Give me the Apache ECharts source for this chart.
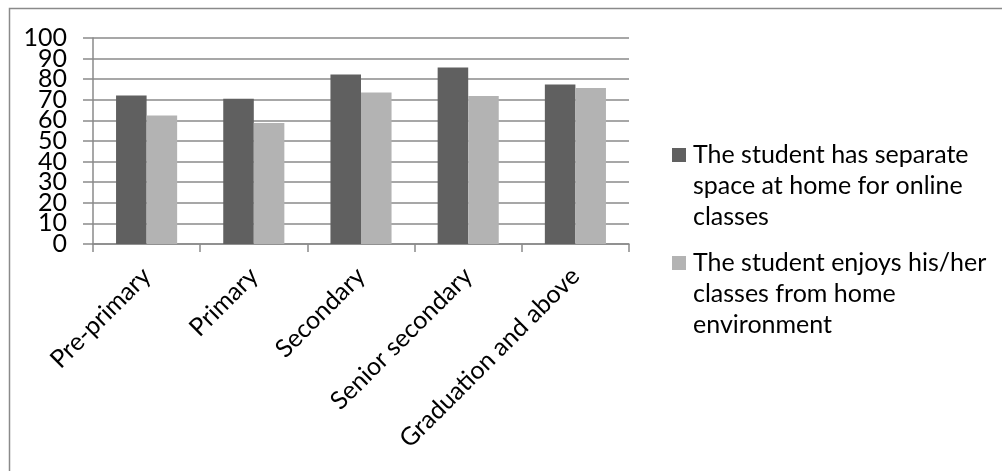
<!DOCTYPE html>
<html>
<head>
<meta charset="utf-8">
<script src="https://cdn.jsdelivr.net/npm/echarts@6/dist/echarts.min.js"></script>
<style>
  html, body { margin: 0; padding: 0; background: #fff; }
  #chart { width: 1002px; height: 471px; }
</style>
</head>
<body>
<div id="chart"></div>
<script>
// Education levels along the x axis
const categories = ['Pre-primary', 'Primary', 'Secondary', 'Senior secondary', 'Graduation and above'];

// Percentages per level
const separateSpace = [72.1, 70.5, 82.3, 85.7, 77.4];
const enjoysClasses = [62.4, 58.7, 73.6, 71.8, 75.7];

// Series names, wrapped as shown in the legend
const nameSeparate = 'The student has separate\nspace at home for online\nclasses';
const nameEnjoys = 'The student enjoys his/her\nclasses from home\nenvironment';

// Y axis range and its tick labels (every tick is labelled)
const yMin = 0, yMax = 100, yStep = 10;
const yTickLabels = ['0', '10', '20', '30', '40', '50', '60', '70', '80', '90', '100'];

const FONT = 'Lato';
const FS = 25;
const LH = 31;
const GRID_COLOR = '#8a8a8a';

// One legend block per series; the marker sits beside the first text line,
// so two empty lines are prepended to shift the centred text down.
function legendAt(name, markerCenterY) {
  return {
    data: [name],
    left: 672,
    top: markerCenterY - LH * 2.5,
    orient: 'vertical',
    padding: 0,
    itemWidth: 14,
    itemHeight: 14,
    icon: 'rect',
    selectedMode: false,
    formatter: n => '\n\n' + n,
    textStyle: {
      fontFamily: FONT,
      fontSize: FS,
      lineHeight: LH,
      color: '#000',
      padding: [0, 0, 0, 2]
    }
  };
}

const chart = echarts.init(document.getElementById('chart'), null, { renderer: 'canvas' });
chart.setOption({
  animation: false,
  backgroundColor: '#fff',
  textStyle: { fontFamily: FONT },
  graphic: [{
    type: 'rect',
    shape: { x: 9.5, y: 8.5, width: 1200, height: 700 },
    style: { fill: 'none', stroke: '#8a8a8a', lineWidth: 1.5 },
    silent: true
  }],
  grid: { left: 93, top: 38, width: 536, height: 206 },
  legend: [
    legendAt(nameSeparate, 155),
    legendAt(nameEnjoys, 263)
  ],
  xAxis: {
    type: 'category',
    data: categories,
    axisLine: { show: true, lineStyle: { color: GRID_COLOR, width: 1.5 } },
    axisTick: { show: true, length: 8, interval: 0, lineStyle: { color: GRID_COLOR, width: 1.5 } },
    axisLabel: {
      interval: 0,
      rotate: 45,
      margin: 28,
      fontFamily: FONT,
      fontSize: FS,
      color: '#000'
    }
  },
  yAxis: [
    {
      // value scale: bars, ticks and gridlines
      type: 'value',
      min: yMin,
      max: yMax,
      interval: yStep,
      axisLine: { show: true, lineStyle: { color: GRID_COLOR, width: 1.5 } },
      axisTick: { show: true, length: 10, lineStyle: { color: GRID_COLOR, width: 1.5 } },
      splitLine: { show: true, lineStyle: { color: GRID_COLOR, width: 1.5 } },
      axisLabel: { show: false }
    },
    {
      // label track: one label per tick, none dropped for crowding
      type: 'category',
      data: yTickLabels,
      position: 'left',
      boundaryGap: false,
      axisLine: { show: false },
      axisTick: { show: false },
      splitLine: { show: false },
      axisLabel: {
        interval: 0,
        margin: 26,
        fontFamily: FONT,
        fontSize: FS,
        color: '#000'
      }
    }
  ],
  series: [
    {
      name: nameSeparate,
      type: 'bar',
      data: separateSpace,
      barGap: '0%',
      barCategoryGap: '43%',
      itemStyle: { color: '#606060' }
    },
    {
      name: nameEnjoys,
      type: 'bar',
      data: enjoysClasses,
      barGap: '0%',
      barCategoryGap: '43%',
      itemStyle: { color: '#b3b3b3' }
    }
  ]
});
</script>
</body>
</html>
